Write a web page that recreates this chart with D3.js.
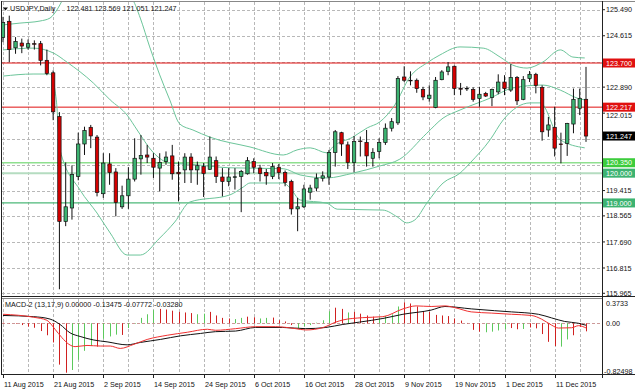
<!DOCTYPE html>
<html><head><meta charset="utf-8">
<script src="https://cdn.jsdelivr.net/npm/d3@7"></script>
<style>body{margin:0;background:#fff;} svg{display:block;font-family:"Liberation Sans",Arial,sans-serif;}</style>
</head><body><svg id="c" width="635" height="391"></svg>
<script>
// ---------- DATA ----------
const dateLabels = ["11 Aug 2015","21 Aug 2015","2 Sep 2015","14 Sep 2015","24 Sep 2015","6 Oct 2015","16 Oct 2015","28 Oct 2015","9 Nov 2015","19 Nov 2015","1 Dec 2015","11 Dec 2015"];
const dateLabelIdx = [0,8,16,24,32,40,48,56,64,72,80,88];
const open  = [124.56,125.10,124.21,124.37,124.23,124.35,124.35,123.79,123.37,121.90,118.38,118.83,119.89,120.98,121.54,121.21,119.31,120.31,120.04,118.87,119.24,119.80,120.48,120.61,120.50,120.17,120.39,120.58,120.03,120.11,120.54,120.11,120.22,120.13,120.42,119.87,119.72,119.87,119.89,119.98,120.39,120.17,120.02,119.89,120.20,120.02,119.72,118.80,118.87,119.36,119.50,119.83,119.87,120.69,121.36,120.95,120.36,121.08,121.03,120.50,120.73,121.03,121.51,121.69,123.23,123.12,123.12,122.81,122.51,122.21,123.14,123.42,123.59,122.84,122.84,122.81,122.51,122.68,122.54,122.73,123.06,122.79,123.21,122.48,123.18,123.32,122.88,121.45,121.54,120.98,121.00,121.65,122.18,122.481];
const high  = [125.25,125.29,124.57,124.52,124.49,124.46,124.44,124.15,123.45,122.05,120.36,120.26,121.36,121.56,121.62,121.28,120.67,120.67,120.17,119.58,120.20,121.17,121.28,120.95,120.67,120.67,120.73,120.95,120.39,120.67,120.67,120.39,120.34,121.23,120.56,120.17,120.17,120.17,120.11,120.54,120.50,120.28,120.14,120.34,120.31,120.09,119.78,119.17,119.61,119.61,119.99,120.06,120.78,121.45,121.39,121.06,121.25,121.23,121.45,120.84,121.17,121.67,121.85,123.26,123.59,123.42,123.18,122.90,122.95,123.23,123.46,123.73,123.62,123.03,122.92,122.88,122.90,122.73,122.84,123.32,123.29,123.66,123.26,123.26,123.43,123.37,122.95,121.89,122.23,121.36,121.69,122.84,122.84,123.569];
const low   = [124.40,123.73,124.01,124.03,124.15,124.15,123.62,123.29,121.78,116.10,118.22,118.44,119.76,120.61,120.84,119.22,119.17,119.61,118.55,118.80,118.80,119.72,119.95,120.34,119.84,119.39,120.28,119.78,119.05,119.67,119.67,119.61,119.20,120.11,119.67,119.22,119.56,119.45,118.69,119.95,120.00,119.72,119.61,119.80,119.80,119.56,118.61,118.05,118.83,119.11,119.39,119.72,119.61,120.22,120.58,120.14,120.03,120.56,120.22,120.22,120.50,120.95,121.40,121.62,123.06,122.95,122.70,122.45,122.40,122.18,123.12,123.29,122.62,122.62,122.76,122.40,122.23,122.56,122.25,122.65,122.62,122.73,122.29,122.45,123.06,122.68,121.09,121.22,120.56,120.33,120.58,121.34,121.95,121.051];
const close = [125.06,124.15,124.42,124.27,124.35,124.34,123.79,123.35,122.06,118.38,118.87,119.95,120.98,121.43,121.25,119.35,120.34,120.02,119.02,119.24,119.80,120.50,120.59,120.54,120.20,120.36,120.54,119.98,119.98,120.54,120.11,120.25,119.99,120.54,119.89,119.72,119.87,119.88,120.06,120.42,120.20,119.99,119.91,120.22,120.02,119.69,118.80,118.87,119.47,119.50,119.83,119.91,120.69,121.39,120.98,120.36,121.06,121.06,120.58,120.70,121.03,121.51,121.73,123.18,123.12,123.10,122.84,122.56,122.62,123.12,123.40,123.57,122.84,122.83,122.85,122.48,122.65,122.59,122.81,123.06,122.84,123.21,122.43,123.14,123.32,122.95,121.39,121.62,120.84,120.96,121.67,122.48,122.51,121.247];

// Bollinger bands, sampled (bar index, price)
const bbUpperIdx = [0,2.7,5.9,7.5,8.8,9.9,12,16,20.7,21.9,23.4,25,26.6,28.2,30.3,33,39.4,44.7,46.9,49,51.7,52.6,55.8,58.1,60.1,62.5,64.9,67.6,69.7,72.9,76.6,79.3,81.3,83.6,86.1,88.9,90.9,92.8];
const bbUpper    = [124.98,125.04,125.11,125.21,125.55,125.98,126.5,126.6,125.82,125.21,124.24,123.30,122.46,121.65,121.45,121.21,120.88,120.61,120.78,120.85,120.68,120.88,121.21,121.52,121.72,122.29,123.23,123.70,123.97,124.24,124.20,123.90,123.63,123.53,123.73,124.14,123.90,123.87];
const bbMidIdx = [0,4.8,8,10.2,14.4,17.1,19.8,21.4,23.9,26.6,29.8,36.2,44.7,47.4,51.7,55.8,60.1,63.3,67.6,70.2,72.9,77.7,81.3,86.1,88.9,91.6,92.8];
const bbMid    = [124.14,124.20,124.04,123.73,123.03,122.46,121.95,121.45,120.71,120.34,120.30,120.18,120.15,119.94,119.84,120.00,120.24,120.47,121.34,121.85,122.12,122.52,122.86,122.96,122.79,122.52,122.46];
const bbLowerIdx = [0,4.8,7.5,8.5,9.1,12.3,15,17.1,19.8,21.9,25,27.4,29.8,36.2,38.3,39.4,44.7,45.8,47.4,51.7,53.3,60.6,62.9,64.4,65.7,67.6,70.2,72.9,74.5,77.7,79.8,84.1,85.7,88.9,92.8];
const bbLower    = [123.26,123.33,123.33,122.46,120.78,119.43,118.66,117.99,117.25,117.25,117.82,118.36,119.03,119.27,119.53,119.67,119.67,119.50,119.10,118.99,118.79,118.76,118.53,118.33,118.43,118.99,119.67,120.00,120.34,121.12,121.79,122.36,122.36,121.12,120.85];

// MACD-2 (13,17,9)
const histVals = [0.01,-0.005,-0.01,-0.03,-0.055,-0.075,-0.13,-0.20,-0.32,-0.69,-0.825,-0.78,-0.61,-0.46,-0.38,-0.39,-0.26,-0.22,-0.19,-0.195,-0.08,-0.01,0.09,0.15,0.22,0.24,0.23,0.21,0.19,0.18,0.17,0.15,0.16,0.19,0.13,0.09,0.08,0.07,0.09,0.11,0.10,0.08,0.09,0.095,0.05,0.03,-0.03,-0.08,-0.05,-0.03,0.01,0.05,0.20,0.26,0.24,0.18,0.19,0.16,0.13,0.11,0.10,0.12,0.15,0.28,0.35,0.33,0.28,0.205,0.19,0.14,0.13,0.12,0.08,0.045,0.005,-0.11,-0.14,-0.15,-0.14,-0.12,-0.10,-0.08,-0.10,-0.095,-0.07,-0.085,-0.18,-0.31,-0.38,-0.39,-0.27,-0.20,-0.06,-0.13475];
const histBuffer = "rrrrrrrrrrrggggrgggrgggggrrrrrrggrrrrggrrggrrrrggggggrrgrrrrggggrrrrrrrrrrrrrggggrrgrrrrrggrr";
const sigIdx = [0,4.9,7.5,9.1,10.7,12.3,14.5,16.6,19.8,21.9,25.1,28.3,31.5,33.9,37.1,40.3,44.6,48.3,51.5,54.2,56.9,60.6,63.8,68.3,70.5,74.7,78.4,81.1,85.4,87.5,89.6,91.8,93];
const sigVals = [0.13,0.11,0.07,-0.02,-0.16,-0.22,-0.28,-0.31,-0.36,-0.32,-0.27,-0.21,-0.17,-0.14,-0.13,-0.07,-0.07,-0.09,-0.07,-0.02,0.02,0.08,0.15,0.22,0.28,0.24,0.21,0.19,0.15,0.09,0.03,0.0,-0.0328];
const macdIdx = [0,4.9,7.0,8.3,9.4,10.5,11.5,13.4,15.5,17.1,18.7,20.9,23,26.2,29.4,32.6,33.9,37.1,40.3,43.5,46.7,48.3,51,53.1,54.2,57.4,60.6,63.8,65.9,68.3,70.5,72.1,74.7,77.9,81.1,84.3,85.9,87.5,88.6,90.7,91.8,93];
const macdVals = [0.15,0.10,0.05,-0.10,-0.24,-0.35,-0.39,-0.37,-0.38,-0.38,-0.42,-0.35,-0.27,-0.20,-0.15,-0.10,-0.117,-0.09,-0.057,-0.057,-0.09,-0.112,-0.073,0.02,0.055,0.094,0.11,0.24,0.29,0.28,0.29,0.26,0.19,0.17,0.15,0.13,0.07,-0.03,-0.08,-0.075,-0.04,-0.0777];

const priceGrid   = [125.490,124.615,123.740,122.890,122.015,121.140,120.265,119.415,118.565,117.690,116.815,115.965];
const priceLabels = [125.490,124.615,122.890,122.015,119.415,118.565,117.690,116.815,115.965];
const levelVals   = [123.700,122.217,120.350,120.000,119.000];
const levelKinds  = ["res","res","sup1","sup2","sup3"];
const lastPrice = 121.247;
const macdAxisLabels = [0.3733, 0.00, -0.82498];
const header = "USDJPY,Daily";
const headerVals = "122.481 123.569 121.051 121.247";
const macdHeader = "MACD-2 (13,17,9) 0.00000 -0.13475 -0.07772 -0.03280";

// ---------- LAYOUT ----------
const svg = d3.select("#c");
const L = 2, R = 602, mT = 2, mB = 296, dT = 299, dB = 374;
const x = d3.scaleLinear().domain([0, 93]).range([3, 586]);
const y = d3.scaleLinear().domain([115.874, 125.749]).range([296, 2]);
const ym = d3.scaleLinear().domain([-0.82498, 0.3733]).range([372.7, 300.9]);
const FS = 7.2;
const grid = "#b8b8b8";

const defs = svg.append("defs");
defs.append("clipPath").attr("id","cm").append("rect").attr("x",L).attr("y",mT).attr("width",R-L).attr("height",mB-mT);
defs.append("clipPath").attr("id","cd").append("rect").attr("x",L).attr("y",dT).attr("width",R-L).attr("height",dB-dT);

// grids
const vIdx = d3.range(0, 94, 4);
const gm = svg.append("g").attr("clip-path","url(#cm)");
gm.selectAll("line.vg").data(vIdx).join("line")
  .attr("x1",d=>Math.round(x(d))+0.5).attr("x2",d=>Math.round(x(d))+0.5).attr("y1",mT).attr("y2",mB)
  .attr("stroke",grid).attr("stroke-dasharray","3,2");
gm.selectAll("line.hg").data(priceGrid).join("line")
  .attr("x1",L).attr("x2",R).attr("y1",d=>Math.round(y(d))+0.5).attr("y2",d=>Math.round(y(d))+0.5)
  .attr("stroke",grid).attr("stroke-dasharray","3,2");

const gd = svg.append("g").attr("clip-path","url(#cd)");
gd.selectAll("line.vg").data(vIdx).join("line")
  .attr("x1",d=>Math.round(x(d))+0.5).attr("x2",d=>Math.round(x(d))+0.5).attr("y1",dT).attr("y2",dB)
  .attr("stroke",grid).attr("stroke-dasharray","3,2");
gd.append("line").attr("x1",L).attr("x2",R).attr("y1",Math.round(ym(0))+0.5).attr("y2",Math.round(ym(0))+0.5)
  .attr("stroke","#c99").attr("stroke-dasharray","3,2");

// horizontal levels
const levelLine = {res:"#e01010", sup1:"#8fe08f", sup2:"#b5dcc0", sup3:"#4cb878"};
const levelBox  = {res:"#e01010", sup1:"#3ccc3c", sup2:"#3cb371", sup3:"#3cb371"};
const levelW    = {res:1, sup1:1.3, sup2:2, sup3:1.2};
levelVals.forEach((v,i)=>{
  gm.append("line").attr("x1",L).attr("x2",R).attr("y1",y(v)).attr("y2",y(v))
    .attr("stroke",levelLine[levelKinds[i]]).attr("stroke-width",levelW[levelKinds[i]]);
});

// Bollinger bands
const bbColor = "#6cc59a";
const lineG = d3.line().curve(d3.curveMonotoneX);
[[bbUpperIdx,bbUpper],[bbMidIdx,bbMid],[bbLowerIdx,bbLower]].forEach(([ix,vs])=>{
  gm.append("path").attr("d", lineG(ix.map((d,i)=>[x(d), y(vs[i])])))
    .attr("fill","none").attr("stroke",bbColor).attr("stroke-width",1);
});

// candles
const up = "#3cb371", dn = "#d40000";
const cg = gm.selectAll("g.c").data(d3.range(open.length)).join("g");
cg.append("line").attr("x1",i=>x(i)).attr("x2",i=>x(i)).attr("y1",i=>y(high[i])).attr("y2",i=>y(low[i]))
  .attr("stroke","#111").attr("stroke-width",1);
cg.append("rect")
  .attr("x",i=>x(i)-1.7).attr("width",3.4)
  .attr("y",i=>y(Math.max(open[i],close[i])))
  .attr("height",i=>Math.max(0.6, Math.abs(y(open[i])-y(close[i]))))
  .attr("fill",i=>close[i]>=open[i]?up:dn).attr("stroke","#111").attr("stroke-width",0.7);

// MACD histogram
gd.selectAll("line.h").data(histVals).join("line")
  .attr("x1",(d,i)=>Math.round(x(i))+0.5).attr("x2",(d,i)=>Math.round(x(i))+0.5)
  .attr("y1",ym(0)).attr("y2",d=>ym(d))
  .attr("stroke",(d,i)=>histBuffer[i]==="g"?"#5cc95c":"#d02020").attr("stroke-width",1);
gd.append("path").attr("d", lineG(sigIdx.map((d,i)=>[x(d), ym(sigVals[i])])))
  .attr("fill","none").attr("stroke","#111").attr("stroke-width",1);
gd.append("path").attr("d", lineG(macdIdx.map((d,i)=>[x(d), ym(macdVals[i])])))
  .attr("fill","none").attr("stroke","#f03030").attr("stroke-width",1);

// frames
svg.append("line").attr("x1",L).attr("x2",635).attr("y1",1.5).attr("y2",1.5).attr("stroke","#888");
svg.append("line").attr("x1",1.5).attr("x2",1.5).attr("y1",1).attr("y2",dB).attr("stroke","#222");
svg.append("line").attr("x1",R+0.5).attr("x2",R+0.5).attr("y1",1).attr("y2",dB+4).attr("stroke","#222");
svg.append("line").attr("x1",L).attr("x2",635).attr("y1",mB+0.5).attr("y2",mB+0.5).attr("stroke","#222");
svg.append("line").attr("x1",L).attr("x2",R).attr("y1",mB+2.5).attr("y2",mB+2.5).attr("stroke","#888");
svg.append("line").attr("x1",1).attr("x2",635).attr("y1",dB+0.5).attr("y2",dB+0.5).attr("stroke","#222");

// price axis labels (nudged clear of level boxes where they collide)
function labelY(d){
  let yy = y(d) + 2.6;
  const boxes = levelVals.concat([lastPrice]).map(v=>y(v));
  boxes.forEach(b=>{ if (yy-6 < b+4.5 && yy > b-4.5) yy = Math.max(yy, b+4.5+6.2); });
  return yy;
}
svg.selectAll("text.pl").data(priceLabels).join("text")
  .attr("x",606).attr("y",d=>labelY(d)).attr("font-size",FS).attr("fill","#111")
  .text(d=>d.toFixed(3));
svg.selectAll("line.pt").data(priceGrid).join("line")
  .attr("x1",R).attr("x2",R+3).attr("y1",d=>y(d)).attr("y2",d=>y(d)).attr("stroke","#222");

// level boxes
function box(v, fill){
  svg.append("rect").attr("x",R+1).attr("y",y(v)-4.5).attr("width",635-R-1).attr("height",9).attr("fill",fill);
  svg.append("text").attr("x",606).attr("y",y(v)+2.6).attr("font-size",FS).attr("fill","#fff").text(v.toFixed(3));
}
levelVals.forEach((v,i)=>box(v, levelBox[levelKinds[i]]));
box(lastPrice, "#000");

// MACD axis labels
svg.append("text").attr("x",606).attr("y",ym(macdAxisLabels[0])+5.5).attr("font-size",FS).attr("fill","#111").text("0.3733");
svg.append("text").attr("x",606).attr("y",ym(0)+2.6).attr("font-size",FS).attr("fill","#111").text("0.00");
svg.append("text").attr("x",604).attr("y",ym(macdAxisLabels[2])+1).attr("font-size",FS).attr("fill","#111").text("-0.82498");

// date labels
svg.selectAll("text.dl").data(dateLabelIdx).join("text")
  .attr("x",d=>Math.round(x(d))+1).attr("y",386.5).attr("font-size",FS).attr("fill","#111")
  .text((d,i)=>dateLabels[i]);
svg.selectAll("line.dt").data(dateLabelIdx).join("line")
  .attr("x1",d=>Math.round(x(d))+0.5).attr("x2",d=>Math.round(x(d))+0.5).attr("y1",dB).attr("y2",dB+4).attr("stroke","#222");

// headers
svg.append("path").attr("d","M3,7.5 L8,7.5 L5.5,10.5 Z").attr("fill","#111");
svg.append("text").attr("x",10).attr("y",11).attr("font-size",FS).attr("fill","#111").text(header);
svg.append("text").attr("x",66.5).attr("y",11).attr("font-size",FS).attr("fill","#111").text(headerVals);
svg.append("text").attr("x",5).attr("y",307).attr("font-size",FS).attr("fill","#111").text(macdHeader);
</script></body></html>
